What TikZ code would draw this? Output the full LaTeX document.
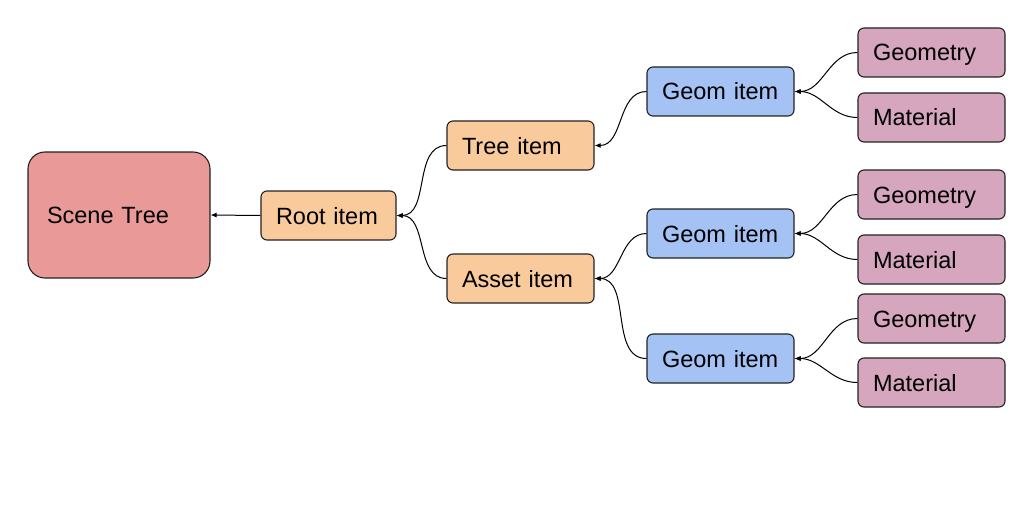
\documentclass[tikz,border=0pt]{standalone}
\usepackage{fontspec}
\setmainfont{Liberation Sans}
\usetikzlibrary{arrows.meta}
\definecolor{cscene}{HTML}{EA9999}
\definecolor{corange}{HTML}{F9CB9C}
\definecolor{cblue}{HTML}{A4C2F4}
\definecolor{cpink}{HTML}{D5A6BD}
\definecolor{cline}{HTML}{222222}
\begin{document}
\begin{tikzpicture}[x=1pt,y=-1pt,
  box/.style={draw=cline, line width=1.1pt, rounded corners=6pt, inner xsep=15pt, inner ysep=0pt,
    align=left, minimum height=49pt, text height=17pt, text depth=0pt, font=\fontsize{23.5}{28}\selectfont},
  orange/.style={box, fill=corange},
  blue/.style={box, fill=cblue, text width=117pt},
  pink/.style={box, fill=cpink, text width=117pt},
  conn/.style={draw=black, line width=1pt, -{Latex[length=6pt,width=5pt]}}
]
\useasboundingbox (0,0) rectangle (1033,516);
\node[box, fill=cscene, rounded corners=17pt, inner xsep=19pt, text width=144pt, minimum height=126pt] (scene) at (119,215) {Scene Tree};
\node[orange, text width=105pt] (root) at (328.5,215.5) {Root item};
\node[orange, text width=117pt] (tree) at (520.5,145.5) {Tree item};
\node[orange, text width=117pt] (asset) at (520.5,278.5) {Asset item};
\node[blue] (g1) at (720.5,91.5) {Geom item};
\node[blue] (g2) at (720.5,233.5) {Geom item};
\node[blue] (g3) at (720.5,358.5) {Geom item};
\node[pink] (l1) at (931.5,52.5) {Geometry};
\node[pink] (l2) at (931.5,117.5) {Material};
\node[pink] (l3) at (931.5,194.5) {Geometry};
\node[pink] (l4) at (931.5,259.5) {Material};
\node[pink] (l5) at (931.5,318.5) {Geometry};
\node[pink] (l6) at (931.5,382.5) {Material};
\draw[conn] (root.west) -- (scene.east);
\foreach \c/\p in {tree/root, asset/root, g1/tree, g2/asset, g3/asset, l1/g1, l2/g1, l3/g2, l4/g2, l5/g3, l6/g3}
  \draw[conn] (\c.west) to[out=180,in=0] (\p.east);
\end{tikzpicture}
\end{document}
